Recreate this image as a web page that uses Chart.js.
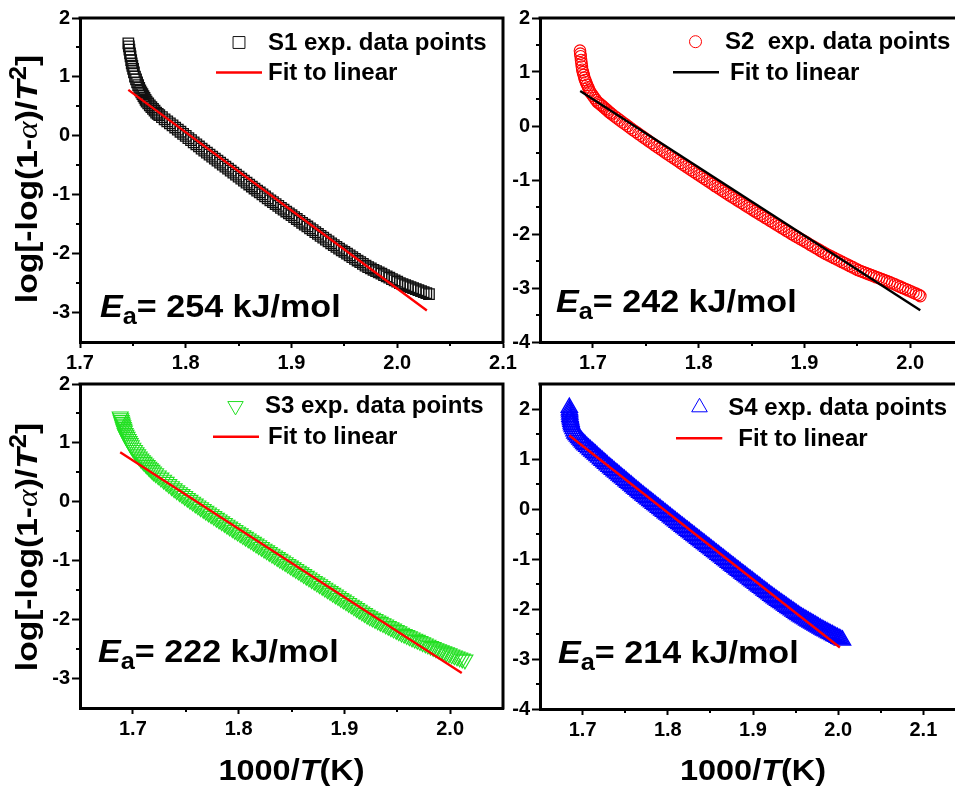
<!DOCTYPE html>
<html>
<head>
<meta charset="utf-8">
<script src="https://cdn.jsdelivr.net/npm/chart.js@4.4.1/dist/chart.umd.min.js"></script>
<style>
  html, body { margin: 0; padding: 0; background: #fff; overflow: hidden; }
  #wrap { position: relative; width: 955px; height: 791px; overflow: hidden; background: #fff; }
  #wrap canvas { position: absolute; left: 0; top: 0; }
</style>
</head>
<body>
<div id="wrap">
  <canvas id="c1" width="1040" height="791"></canvas>
  <canvas id="c2" width="1040" height="791"></canvas>
  <canvas id="c3" width="1040" height="791"></canvas>
  <canvas id="c4" width="1040" height="791"></canvas>
</div>
<script>
// ---- series data: 1000/T (x) and log[-log(1-a)/T^2] (y) ----
const sampleNames = ['S1', 'S2', 'S3', 'S4'];
const activationEnergies = [254, 242, 222, 214]; // kJ/mol

// tick values per panel
const xTicks1 = [1.7, 1.8, 1.9, 2.0, 2.1];
const xTicks2 = [1.7, 1.8, 1.9, 2.0, 2.1];
const xTicks3 = [1.7, 1.8, 1.9, 2.0];
const xTicks4 = [1.7, 1.8, 1.9, 2.0, 2.1];
const yTicks1 = [-3, -2, -1, 0, 1, 2];
const yTicks2 = [-4, -3, -2, -1, 0, 1, 2];
const yTicks3 = [-3, -2, -1, 0, 1, 2];
const yTicks4 = [-4, -3, -2, -1, 0, 1, 2];

const s1X = [1.7457,1.7462,1.7467,1.7473,1.7478,1.7484,1.7489,1.7495,1.7502,1.751,1.752,1.753,1.754,1.755,1.756,1.757,1.758,1.759,1.760,1.761,1.762,1.763,1.7645,1.766,1.7675,1.769,1.7705,1.772,1.7735,1.775,1.7775,1.780,1.7825,1.785,1.7875,
  1.790,1.7925,1.795,1.7975,1.800,1.8025,1.805,1.8075,1.810,1.8125,
  1.815,1.8175,1.82,1.8225,1.825,1.8275,1.83,1.8325,1.835,1.8375,1.84,1.8425,1.845,
  1.8475,1.85,1.8525,1.855,1.8575,1.86,1.8625,1.865,1.8675,1.87,1.8725,1.875,
  1.8775,1.88,1.8825,1.885,1.8875,1.89,1.8925,1.895,1.8975,1.9,1.9025,1.905,1.9075,
  1.91,1.9125,1.915,1.9175,1.92,1.9225,1.925,1.9275,1.93,1.9325,1.935,1.9375,
  1.94,1.9425,1.945,1.9475,1.95,1.9525,1.955,1.9575,1.96,1.9625,1.965,1.9675,1.97,
  1.9725,1.975,1.9775,1.98,1.9825,1.985,1.9875,1.99,1.9925,1.995,1.9975,2.0,
  2.0025,2.005,2.0075,2.01,2.0125,2.015,2.0175,2.02,2.0225,2.025,2.0275,2.03];
const s1Y = [1.571,1.518,1.464,1.40,1.347,1.283,1.23,1.186,1.136,1.078,1.005,0.957,0.909,0.861,0.813,0.770,0.739,0.707,0.675,0.644,0.612,0.58,0.549,0.518,0.487,0.457,0.426,0.395,0.372,0.350,0.316,0.281,0.246,0.211,0.177,
  0.141,0.105,0.069,0.033,-0.002,-0.038,-0.074,-0.110,-0.145,-0.181,
  -0.216,-0.250,-0.284,-0.318,-0.352,-0.386,-0.420,-0.454,-0.489,-0.523,-0.557,-0.591,-0.625,
  -0.658,-0.693,-0.726,-0.760,-0.794,-0.827,-0.861,-0.895,-0.929,-0.962,-0.995,-1.029,
  -1.063,-1.094,-1.126,-1.158,-1.190,-1.222,-1.253,-1.285,-1.317,-1.348,-1.380,-1.412,-1.444,
  -1.476,-1.507,-1.539,-1.571,-1.602,-1.635,-1.666,-1.698,-1.729,-1.761,-1.793,-1.824,
  -1.856,-1.885,-1.914,-1.943,-1.972,-2.001,-2.030,-2.059,-2.088,-2.117,-2.145,-2.174,-2.203,
  -2.229,-2.251,-2.274,-2.296,-2.319,-2.341,-2.364,-2.386,-2.409,-2.432,-2.454,-2.477,
  -2.499,-2.516,-2.533,-2.551,-2.568,-2.585,-2.602,-2.619,-2.637,-2.654,-2.671,-2.688];
const fit1X = [1.7457, 2.028];
const fit1Y = [0.78, -2.966];

const s2X = [1.6878,1.6881,1.6884,1.6888,1.6892,1.6896,1.690,1.6906,1.6913,1.692,1.6926,1.6935,1.6945,1.6955,1.6965,1.6973,1.6985,1.700,1.7015,1.703,1.7045,1.706,1.7075,1.709,1.7105,1.712,1.7135,1.715,1.7165,1.718,
  1.7205,1.723,1.7255,1.728,1.7305,1.733,1.7355,1.738,1.7405,1.743,1.7455,1.748,1.7505,1.753,1.7555,1.758,1.7605,1.763,1.7655,1.768,1.7705,1.773,1.7755,1.778,1.7805,1.783,1.7855,1.788,1.7905,1.793,1.7955,1.798,1.8005,1.803,1.8055,1.808,1.8105,1.813,1.8155,1.818,1.8205,1.823,1.8255,1.828,1.8305,1.833,1.8355,1.838,1.8405,1.843,1.8455,1.848,1.8505,1.853,1.8555,1.858,1.8605,1.863,1.8655,1.868,1.8705,1.873,1.8755,1.878,1.8805,1.883,1.8855,1.888,
  1.8905,1.893,1.8955,1.898,1.9005,1.903,1.9055,1.908,1.9105,1.913,1.9155,1.918,1.9205,1.923,1.9255,1.928,1.9305,1.933,1.9355,1.938,1.9405,1.943,1.9455,1.948,1.9505,1.953,1.9555,1.958,1.9605,1.963,1.9655,1.968,1.9705,1.973,1.9755,1.978,1.9805,1.983,1.9855,1.988,1.9905,1.993,1.9955,1.998,2.0005,2.003,2.0055,2.008,2.0095];
const s2Y = [1.395,1.34,1.29,1.22,1.16,1.10,1.04,0.996,0.945,0.894,0.85,0.809,0.763,0.717,0.672,0.635,0.602,0.561,0.520,0.479,0.439,0.419,0.394,0.369,0.343,0.318,0.292,0.266,0.242,0.216,
  0.180,0.144,0.107,0.071,0.035,-0.001,-0.038,-0.074,-0.108,-0.143,-0.177,-0.212,-0.246,-0.281,-0.315,-0.350,-0.383,-0.419,-0.451,-0.485,-0.517,-0.551,-0.584,-0.617,-0.650,-0.684,-0.716,-0.750,-0.782,-0.816,-0.849,-0.881,-0.914,-0.946,-0.978,-1.011,-1.044,-1.076,-1.109,-1.141,-1.173,-1.205,-1.238,-1.269,-1.300,-1.330,-1.361,-1.392,-1.423,-1.454,-1.485,-1.515,-1.546,-1.577,-1.607,-1.638,-1.668,-1.698,-1.728,-1.758,-1.788,-1.818,-1.849,-1.878,-1.908,-1.939,-1.968,-1.998,
  -2.027,-2.055,-2.084,-2.112,-2.141,-2.169,-2.199,-2.227,-2.256,-2.284,-2.313,-2.341,-2.369,-2.394,-2.419,-2.443,-2.468,-2.493,-2.518,-2.542,-2.566,-2.591,-2.615,-2.640,-2.665,-2.685,-2.704,-2.723,-2.742,-2.761,-2.780,-2.799,-2.817,-2.836,-2.855,-2.874,-2.893,-2.912,-2.933,-2.955,-2.976,-2.998,-3.019,-3.041,-3.062,-3.084,-3.105,-3.127,-3.150];
const fit2X = [1.688, 2.0095];
const fit2Y = [0.65, -3.414];

const s3X = [1.688,1.6885,1.689,1.6895,1.690,1.6905,1.691,1.6915,1.692,1.6927,1.6935,1.6945,1.6955,1.6965,1.6975,1.6985,1.700,1.7015,1.703,1.7045,1.706,1.7075,1.709,1.7105,1.712,1.7135,1.715,1.7165,1.718,1.7195,
  1.7215,1.724,1.7265,1.729,1.7315,1.734,1.7365,1.739,1.7415,1.744,1.7465,1.749,1.7515,1.754,1.7565,1.759,1.7615,1.764,1.7665,1.769,1.7715,1.774,1.7765,1.779,1.7815,1.784,1.7865,1.789,1.7915,1.794,1.7965,1.799,1.8015,1.804,1.8065,1.809,1.8115,1.814,1.8165,1.819,1.8215,1.824,1.8265,1.829,1.8315,1.834,1.8365,1.839,1.8415,1.844,1.8465,1.849,1.8515,1.854,1.8565,1.859,
  1.8615,1.864,1.8665,1.869,1.8715,1.874,1.8765,1.879,1.8815,1.884,1.8865,1.889,1.8915,1.894,1.8965,1.899,1.9015,1.904,1.9065,1.909,1.9115,1.914,1.9165,1.919,1.9215,1.924,1.9265,1.929,1.9315,1.934,1.9365,1.939,1.9415,1.944,1.9465,1.949,1.9515,1.954,1.9565,1.959,1.9615,1.964,1.9665,1.969,1.9715,1.974,1.9765,1.979,1.9815,1.984,1.9865,1.989,1.9915,1.994,1.9965,1.999,2.0015,2.004,2.0065,2.009,2.0115,2.014];
const s3Y = [1.446,1.416,1.386,1.356,1.326,1.296,1.266,1.236,1.207,1.165,1.136,1.101,1.065,1.029,0.994,0.958,0.915,0.878,0.840,0.803,0.765,0.731,0.704,0.676,0.649,0.622,0.594,0.567,0.540,0.512,
  0.483,0.446,0.409,0.373,0.336,0.299,0.262,0.226,0.193,0.161,0.129,0.096,0.064,0.032,0.000,-0.032,-0.063,-0.095,-0.124,-0.155,-0.184,-0.214,-0.243,-0.274,-0.303,-0.333,-0.362,-0.392,-0.422,-0.451,-0.481,-0.509,-0.538,-0.568,-0.596,-0.625,-0.653,-0.682,-0.711,-0.740,-0.769,-0.798,-0.826,-0.855,-0.883,-0.912,-0.941,-0.970,-0.998,-1.027,-1.056,-1.085,-1.114,-1.142,-1.171,-1.200,
  -1.229,-1.258,-1.287,-1.316,-1.345,-1.374,-1.402,-1.431,-1.460,-1.489,-1.518,-1.547,-1.576,-1.604,-1.634,-1.662,-1.690,-1.720,-1.748,-1.777,-1.806,-1.835,-1.864,-1.892,-1.921,-1.946,-1.969,-1.992,-2.016,-2.039,-2.062,-2.085,-2.109,-2.132,-2.155,-2.178,-2.201,-2.225,-2.245,-2.265,-2.286,-2.306,-2.326,-2.346,-2.367,-2.387,-2.407,-2.427,-2.448,-2.468,-2.488,-2.505,-2.523,-2.540,-2.558,-2.575,-2.593,-2.610,-2.628,-2.645,-2.663,-2.680];
const fit3X = [1.688, 2.011];
const fit3Y = [0.84, -2.906];

const s4X = [1.6844,1.6846,1.6848,1.685,1.6852,1.6856,1.686,1.6864,1.6868,1.6872,1.688,1.689,1.690,1.691,1.6925,1.694,1.6955,1.697,1.6985,1.700,1.7015,1.703,
  1.705,1.707,1.709,1.711,1.713,1.715,1.717,1.719,1.721,1.723,1.725,1.727,1.729,1.731,1.733,1.735,1.737,1.739,1.741,1.743,1.745,1.747,1.749,1.751,1.753,1.755,1.757,1.759,1.761,1.763,1.765,1.767,1.769,
  1.771,1.773,1.775,1.777,1.779,1.781,1.783,1.785,1.787,1.789,1.791,1.793,1.795,1.797,1.799,1.801,1.803,1.805,1.807,1.809,1.811,1.813,1.815,1.817,1.819,1.821,1.823,1.825,1.827,1.829,1.831,1.833,1.835,1.837,1.839,1.841,1.843,1.845,1.847,
  1.849,1.851,1.853,1.855,1.857,1.859,1.861,1.863,1.865,1.867,1.869,1.871,1.873,1.875,1.877,1.879,1.881,1.883,1.885,1.887,1.889,1.891,1.893,1.895,1.897,1.899,1.901,1.903,1.905,1.907,1.909,1.911,1.913,1.915,1.917,1.919,1.921,1.923,1.925,
  1.927,1.929,1.931,1.933,1.935,1.937,1.939,1.941,1.943,1.945,1.947,1.949,1.951,1.953,1.955,1.957,1.959,1.961,1.963,1.965,1.967,1.969,1.971,1.973,1.975,1.977,1.979,1.981,1.983,1.985,1.987,1.989,1.991,1.993,1.995,1.997,1.999,2.001,2.003,2.005];
const s4Y = [2.03,1.98,1.94,1.895,1.85,1.816,1.782,1.748,1.714,1.68,1.645,1.602,1.558,1.514,1.482,1.452,1.423,1.393,1.364,1.334,1.305,1.280,
  1.247,1.216,1.185,1.154,1.123,1.093,1.062,1.031,1.000,0.969,0.939,0.908,0.877,0.846,0.818,0.789,0.760,0.731,0.703,0.674,0.645,0.616,0.588,0.559,0.530,0.501,0.473,0.444,0.415,0.386,0.358,0.329,0.301,
  0.274,0.246,0.219,0.192,0.165,0.138,0.110,0.083,0.056,0.029,0.002,-0.026,-0.053,-0.080,-0.107,-0.134,-0.162,-0.189,-0.216,-0.243,-0.270,-0.297,-0.324,-0.350,-0.377,-0.404,-0.430,-0.457,-0.484,-0.510,-0.537,-0.564,-0.591,-0.617,-0.644,-0.671,-0.697,-0.724,-0.751,
  -0.777,-0.804,-0.831,-0.858,-0.884,-0.911,-0.938,-0.964,-0.991,-1.018,-1.044,-1.071,-1.098,-1.125,-1.151,-1.178,-1.205,-1.231,-1.258,-1.285,-1.311,-1.337,-1.363,-1.389,-1.416,-1.442,-1.468,-1.494,-1.520,-1.547,-1.573,-1.599,-1.625,-1.651,-1.678,-1.704,-1.730,-1.756,-1.782,
  -1.807,-1.831,-1.855,-1.879,-1.903,-1.927,-1.951,-1.975,-1.999,-2.023,-2.047,-2.071,-2.095,-2.119,-2.143,-2.164,-2.184,-2.204,-2.225,-2.245,-2.266,-2.286,-2.306,-2.327,-2.347,-2.368,-2.388,-2.408,-2.426,-2.444,-2.463,-2.481,-2.499,-2.517,-2.535,-2.554,-2.572,-2.590,-2.608,-2.626];
const fit4X = [1.6844, 2.002];
const fit4Y = [1.47, -2.77];

// ---- styling helpers ----
const SANS = '"Liberation Sans", Arial, Helvetica, sans-serif';
const SERIF = '"Liberation Serif", "Times New Roman", serif';
Chart.defaults.font.family = SANS;
Chart.defaults.color = '#000';

const CW = 1040, CH = 791, Y_AXIS_W = 60, X_AXIS_H = 40;

// draws a run of differently styled text pieces, optionally stretched along the text direction
function drawRuns(ctx, runs, x, y, stretch, align, angle) {
  let total = 0;
  runs.forEach(r => { ctx.font = r.font; r.w = ctx.measureText(r.t).width; total += r.w; });
  ctx.save();
  ctx.translate(x, y);
  if (angle) ctx.rotate(angle);
  ctx.scale(stretch, 1);
  ctx.textBaseline = 'alphabetic';
  ctx.textAlign = 'left';
  ctx.fillStyle = '#000';
  let cx = align === 'center' ? -total / 2 : 0;
  runs.forEach(r => { ctx.font = r.font; ctx.fillText(r.t, cx, r.dy || 0); cx += r.w; });
  ctx.restore();
}

const decorPlugin = {
  id: 'decor',
  afterDatasetsDraw(chart, args, p) {
    const ctx = chart.ctx;
    const a = chart.chartArea;
    const xs = chart.scales.x, ys = chart.scales.y;

    // closing frame on top and right
    ctx.save();
    ctx.strokeStyle = '#000';
    ctx.lineWidth = 3;
    ctx.lineCap = 'square';
    ctx.beginPath();
    ctx.moveTo(a.left, a.top);
    ctx.lineTo(a.right, a.top);
    ctx.lineTo(a.right, a.bottom);
    ctx.stroke();

    // minor ticks halfway between the labelled ones
    ctx.lineWidth = 2;
    ctx.lineCap = 'butt';
    const mids = (scale, step) => {
      const out = [];
      const vals = scale.ticks.map(t => t.value);
      const cand = [vals[0] - step / 2];
      vals.forEach(v => cand.push(v + step / 2));
      cand.forEach(v => { if (v > scale.min + 1e-9 && v < scale.max - 1e-9) out.push(v); });
      return out;
    };
    ctx.beginPath();
    mids(xs, 0.1).forEach(v => {
      const px = Math.round(xs.getPixelForValue(v));
      ctx.moveTo(px, a.bottom); ctx.lineTo(px, a.bottom + 4);
    });
    mids(ys, 1).forEach(v => {
      const py = Math.round(ys.getPixelForValue(v));
      ctx.moveTo(a.left, py); ctx.lineTo(a.left - 4, py);
    });
    ctx.stroke();
    ctx.restore();

    // legend
    const L = p.legend;
    ctx.save();
    ctx.strokeStyle = p.marker.color;
    ctx.fillStyle = 'rgba(0,0,0,0)';
    ctx.lineWidth = 1;
    Chart.helpers.drawPoint(ctx, { pointStyle: p.marker.style, radius: p.marker.legendR, rotation: p.marker.rot, borderWidth: 1 }, L.mx, L.my);
    ctx.strokeStyle = p.fitColor;
    ctx.lineWidth = 2.4;
    ctx.beginPath();
    ctx.moveTo(L.lx1, L.ly); ctx.lineTo(L.lx2, L.ly);
    ctx.stroke();
    ctx.restore();
    const legFont = 'bold 24px ' + SANS;
    drawRuns(ctx, [{ t: p.legendText, font: legFont }], L.tx, L.ty1, 1.0, 'left');
    drawRuns(ctx, [{ t: 'Fit to linear', font: legFont }], L.tx2, L.ty2, 1.0, 'left');

    // activation energy label
    drawRuns(ctx, [
      { t: 'E', font: 'italic bold 31px ' + SANS },
      { t: 'a', font: 'bold 23px ' + SANS, dy: 7 },
      { t: '= ' + p.energy + ' kJ/mol', font: 'bold 31px ' + SANS }
    ], p.ea.x, p.ea.y, 1.1, 'left');

    // axis titles
    if (p.yTitle) {
      drawRuns(ctx, [
        { t: 'log[-log(1-', font: 'bold 30px ' + SANS },
        { t: '\u03B1', font: 'italic 30px ' + SERIF },
        { t: ')/', font: 'bold 30px ' + SANS },
        { t: 'T', font: 'italic bold 30px ' + SANS },
        { t: '2', font: 'bold 23px ' + SANS, dy: -11 },
        { t: ']', font: 'bold 30px ' + SANS }
      ], p.yTitle.x, p.yTitle.y, 1.12, 'center', -Math.PI / 2);
    }
    if (p.xTitle) {
      drawRuns(ctx, [
        { t: '1000/', font: 'bold 29px ' + SANS },
        { t: 'T', font: 'italic bold 29px ' + SANS },
        { t: '(K)', font: 'bold 29px ' + SANS }
      ], (a.left + a.right) / 2, p.xTitle.y, 1.12, 'center');
    }
  }
};

function buildPanel(p) {
  const points = p.xs.map((x, i) => ({ x: x, y: p.ys[i] })).filter(d => d.y !== undefined);
  const fitLine = p.fx.map((x, i) => ({ x: x, y: p.fy[i] }));
  const tickFont = { size: 20, weight: 'bold', family: SANS };
  return new Chart(document.getElementById(p.id), {
    type: 'scatter',
    data: {
      datasets: [
        { label: 'Fit to linear', data: fitLine, showLine: true, pointRadius: 0, borderColor: p.fitColor, borderWidth: 2.4, order: 0 },
        { label: p.legendText, data: points, pointStyle: p.marker.style, pointRadius: p.marker.r, pointRotation: p.marker.rot,
          borderColor: p.marker.color, backgroundColor: 'rgba(0,0,0,0)', pointBorderWidth: p.marker.lw, order: 1 }
      ]
    },
    options: {
      responsive: false,
      animation: false,
      devicePixelRatio: 1,
      layout: { padding: { left: p.area.l - Y_AXIS_W, top: p.area.t, right: CW - p.area.r, bottom: CH - p.area.b - X_AXIS_H } },
      plugins: { legend: { display: false }, tooltip: { enabled: false }, decor: p },
      scales: {
        x: {
          type: 'linear', position: 'bottom', min: p.xMin, max: p.xMax,
          afterFit: s => { s.height = X_AXIS_H; },
          afterBuildTicks: s => { s.ticks = p.xTicks.map(v => ({ value: v })); },
          ticks: { callback: v => Number(v).toFixed(1), font: tickFont, color: '#000', padding: 3, maxRotation: 0, autoSkip: false },
          grid: { drawOnChartArea: false, tickLength: 6, tickWidth: 2, tickColor: '#000' },
          border: { color: '#000', width: 3 }
        },
        y: {
          type: 'linear', position: 'left', min: p.yMin, max: p.yMax,
          afterFit: s => { s.width = Y_AXIS_W; },
          afterBuildTicks: s => { s.ticks = p.yTicks.map(v => ({ value: v })); },
          ticks: { callback: v => String(Math.round(v)), font: tickFont, color: '#000', padding: 2, autoSkip: false },
          grid: { drawOnChartArea: false, tickLength: 8, tickWidth: 2, tickColor: '#000' },
          border: { color: '#000', width: 3 }
        }
      }
    },
    plugins: [decorPlugin]
  });
}

const panels = [
  { id: 'c1', area: { l: 80, t: 18, r: 503, b: 342 }, xMin: 1.7, xMax: 2.1, yMin: -3.5, yMax: 2,
    xTicks: xTicks1, yTicks: yTicks1,
    xs: s1X, ys: s1Y, fx: fit1X, fy: fit1Y, fitColor: '#ff0000',
    marker: { style: 'rect', r: 7.4, legendR: 8.4, rot: 0, color: '#111111', lw: 1.3 },
    legendText: sampleNames[0] + ' exp. data points', energy: activationEnergies[0],
    legend: { mx: 239, my: 42.5, tx: 268, ty1: 50, lx1: 216, lx2: 262, ly: 72.5, tx2: 268, ty2: 80 },
    ea: { x: 100, y: 317 }, yTitle: { x: 37, y: 179 }, xTitle: null },
  { id: 'c2', area: { l: 540, t: 18, r: 1016, b: 342 }, xMin: 1.65, xMax: 2.1, yMin: -4, yMax: 2,
    xTicks: xTicks2, yTicks: yTicks2,
    xs: s2X, ys: s2Y, fx: fit2X, fy: fit2Y, fitColor: '#000000',
    marker: { style: 'circle', r: 5.8, legendR: 6, rot: 0, color: '#ff0000', lw: 1.1 },
    legendText: sampleNames[1] + '  exp. data points', energy: activationEnergies[1],
    legend: { mx: 695.5, my: 41.7, tx: 725, ty1: 48.5, lx1: 673, lx2: 719, ly: 72.3, tx2: 730, ty2: 80 },
    ea: { x: 556, y: 312 }, yTitle: null, xTitle: null },
  { id: 'c3', area: { l: 80, t: 384, r: 503, b: 708 }, xMin: 1.65, xMax: 2.05, yMin: -3.5, yMax: 2,
    xTicks: xTicks3, yTicks: yTicks3,
    xs: s3X, ys: s3Y, fx: fit3X, fy: fit3Y, fitColor: '#ff0000',
    marker: { style: 'triangle', r: 9.2, legendR: 8.9, rot: 180, color: '#22e022', lw: 1.1 },
    legendText: sampleNames[2] + ' exp. data points', energy: activationEnergies[2],
    legend: { mx: 235.5, my: 406, tx: 265, ty1: 413.3, lx1: 213, lx2: 259, ly: 436.7, tx2: 268, ty2: 444 },
    ea: { x: 98, y: 662 }, yTitle: { x: 37, y: 547 }, xTitle: { y: 780 } },
  { id: 'c4', area: { l: 540, t: 384, r: 966, b: 709 }, xMin: 1.65, xMax: 2.15, yMin: -4, yMax: 2.5,
    xTicks: xTicks4, yTicks: yTicks4,
    xs: s4X, ys: s4Y, fx: fit4X, fy: fit4Y, fitColor: '#ff0000',
    marker: { style: 'triangle', r: 9.4, legendR: 9, rot: 0, color: '#0000ff', lw: 1.4 },
    legendText: sampleNames[3] + ' exp. data points', energy: activationEnergies[3],
    legend: { mx: 699.5, my: 407.3, tx: 728.3, ty1: 415, lx1: 676, lx2: 722.3, ly: 438.3, tx2: 738.3, ty2: 446 },
    ea: { x: 558, y: 663 }, yTitle: null, xTitle: { y: 780 } }
];

panels.forEach(buildPanel);
</script>
</body>
</html>
